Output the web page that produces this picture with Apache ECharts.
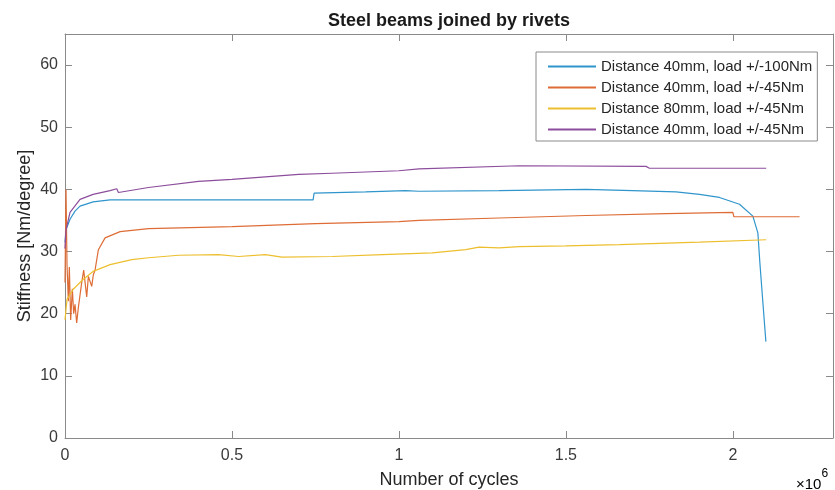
<!DOCTYPE html>
<html><head><meta charset="utf-8">
<script src="https://cdn.jsdelivr.net/npm/echarts@6/dist/echarts.min.js"></script>
<style>html,body{margin:0;padding:0;background:#fff}#c{width:835px;height:490px}</style>
</head><body><div id="c"></div>
<script>
// x in units of 10^6 cycles, y in Nm/degree
const seriesNames = [
  'Distance 40mm, load +/-100Nm',
  'Distance 40mm, load +/-45Nm',
  'Distance 80mm, load +/-45Nm',
  'Distance 40mm, load +/-45Nm'
];
const blueData = [[0,31.5],[0.003,33.5],[0.015,35.2],[0.03,36.5],[0.045,37.3],[0.084,38.0],[0.135,38.3],[0.743,38.3],[0.746,39.4],[0.9,39.6],[1.02,39.8],[1.025,39.5],[1.06,39.7],[1.3,39.8],[1.56,40.0],[1.7,39.8],[1.83,39.6],[1.9,39.2],[1.96,38.7],[2.02,37.6],[2.06,35.7],[2.075,33.0],[2.081,28.2],[2.09,21.8],[2.099,15.5]];
const orangeData = [[0,25],[0.003,40],[0.006,28],[0.01,22],[0.013,27.5],[0.017,19],[0.022,24],[0.026,20],[0.03,21.5],[0.035,18.5],[0.04,21],[0.05,25],[0.056,27],[0.065,22.7],[0.07,26],[0.08,24.4],[0.085,26.3],[0.09,27],[0.1,30.3],[0.12,32.2],[0.165,33.2],[0.25,33.7],[0.5,34.0],[0.75,34.5],[1.0,34.8],[1.06,35.0],[1.3,35.4],[1.56,35.8],[1.8,36.1],[2.0,36.3],[2.003,35.6],[2.2,35.6]];
const yellowData = [[0,19],[0.006,22.3],[0.024,23.9],[0.054,25.5],[0.084,26.8],[0.135,27.9],[0.2,28.7],[0.25,29.0],[0.34,29.4],[0.46,29.5],[0.52,29.2],[0.6,29.5],[0.65,29.1],[0.8,29.2],[0.95,29.5],[1.1,29.8],[1.2,30.3],[1.24,30.7],[1.3,30.6],[1.36,30.8],[1.5,30.9],[1.66,31.1],[1.9,31.5],[2.1,31.9]];
const purpleData = [[0,30.5],[0.003,33.5],[0.015,36.3],[0.045,38.4],[0.084,39.2],[0.135,39.8],[0.155,40.1],[0.16,39.5],[0.25,40.3],[0.4,41.3],[0.5,41.6],[0.7,42.4],[0.8,42.6],[1.0,43.0],[1.06,43.3],[1.36,43.8],[1.74,43.7],[1.75,43.4],[2.1,43.4]];
const colors = ['#2f95cc','#de6c36','#edbf2e','#8c4d9c'];
const xTicks = [0,0.5,1,1.5,2];
const yTicks = [0,10,20,30,40,50,60];

// unique internal ids for series (two series share the same label)
const ids = seriesNames.map((n,i)=> n + ' '.repeat(i===3?1:0));

const chart = echarts.init(document.getElementById('c'));
const font = 'Liberation Sans, Arial, sans-serif';
const mkLine = () => ({show:true, onZero:false, lineStyle:{color:'#8a8a8a', width:1}});
const mkTick = (vals) => ({show:true, inside:true, length:7, lineStyle:{color:'#8a8a8a'}, customValues:vals});
const mk = (name, data, color) => ({
  name, type:'line', data, symbol:'none', showSymbol:false,
  lineStyle:{color, width:1.2}, itemStyle:{color}, animation:false
});
chart.setOption({
  animation:false,
  title:{text:'Steel beams joined by rivets', left:444, top:7, textAlign:'center',
    textStyle:{fontFamily:font, fontSize:18, fontWeight:'bold', color:'#1a1a1a'}},
  grid:{left:65, right:2, top:34, bottom:52, containLabel:false, outerBoundsMode:'none'},
  legend:{
    left:536, top:52, orient:'vertical',
    padding:[7,5,4,11], itemWidth:48, itemHeight:14, itemGap:6,
    borderColor:'#8a8a8a', borderWidth:1, backgroundColor:'#fff',
    itemStyle:{opacity:0},
    textStyle:{fontFamily:font, fontSize:15, lineHeight:14, color:'#262626'},
    formatter:n=>n.trim(),
    data:ids.map(n=>({name:n})),
  },
  xAxis:[{
    type:'value', min:0, max:2.3, interval:0.5, position:'bottom',
    name:'Number of cycles', nameLocation:'middle', nameGap:33,
    nameTextStyle:{fontFamily:font, fontSize:18, color:'#262626'},
    axisLine:mkLine(), axisTick:mkTick(xTicks), splitLine:{show:false},
    axisLabel:{fontFamily:font, fontSize:16, color:'#3a3a3a', margin:10, customValues:xTicks}
  },{
    type:'value', min:0, max:2.3, interval:0.5, position:'top',
    axisLine:mkLine(), axisTick:mkTick(xTicks), splitLine:{show:false},
    axisLabel:{show:false, customValues:xTicks}
  }],
  yAxis:[{
    type:'value', min:0, max:65, interval:10, position:'left',
    name:'Stiffness [Nm/degree]', nameLocation:'middle', nameGap:31, nameMoveOverlap:false,
    nameTextStyle:{fontFamily:font, fontSize:18, color:'#262626'},
    axisLine:mkLine(), axisTick:mkTick(yTicks), splitLine:{show:false},
    axisLabel:{fontFamily:font, fontSize:16, color:'#3a3a3a', margin:7, customValues:yTicks}
  },{
    type:'value', min:0, max:65, interval:10, position:'right',
    axisLine:mkLine(), axisTick:mkTick(yTicks), splitLine:{show:false},
    axisLabel:{show:false, customValues:yTicks}
  }],
  graphic:[{
    type:'text', left:796, top:468,
    style:{text:'{a|×10}{b|6}', rich:{
      a:{fontFamily:font, fontSize:15, color:'#3a3a3a', padding:[9,0,0,0]},
      b:{fontFamily:font, fontSize:12, color:'#3a3a3a', verticalAlign:'top'}
    }}
  }],
  series:[
    mk(ids[0], blueData, colors[0]),
    mk(ids[1], orangeData, colors[1]),
    mk(ids[2], yellowData, colors[2]),
    mk(ids[3], purpleData, colors[3])
  ]
});
</script></body></html>
